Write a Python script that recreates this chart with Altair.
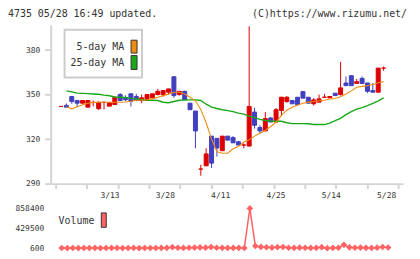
import json
import pandas as pd
import altair as alt

# ---------------- data ----------------
dates = ["2/28", "2/29", "3/1", "3/4", "3/5", "3/6", "3/7", "3/8", "3/11", "3/12",
         "3/13", "3/14", "3/15", "3/18", "3/19", "3/21", "3/22", "3/25", "3/26", "3/27",
         "3/28", "3/29", "4/1", "4/2", "4/3", "4/4", "4/5", "4/8", "4/9", "4/10",
         "4/11", "4/12", "4/15", "4/16", "4/17", "4/18", "4/19", "4/22", "4/23", "4/24",
         "4/25", "4/26", "4/30", "5/1", "5/2", "5/7", "5/8", "5/9", "5/10", "5/13",
         "5/14", "5/15", "5/16", "5/17", "5/20", "5/21", "5/22", "5/23", "5/24", "5/27",
         "5/28"]

opens = [342.0, 342.7, 348.7, 346.0, 344.2, 341.5, 344.7, 340.5, 344.7, 342.2,
         343.3, 350.0, 348.0, 350.5, 348.7, 346.0, 346.0, 347.8, 350.0, 350.0,
         351.6, 362.0, 350.0, 352.2, 344.2, 338.9, 299.8, 302.0, 322.0, 320.5,
         312.2, 322.0, 321.0, 318.2, 316.0, 315.3, 338.2, 327.8, 325.5, 334.2,
         331.5, 339.3, 345.3, 346.0, 348.2, 352.0, 348.2, 343.8, 344.9, 348.2,
         347.8, 350.9, 350.0, 357.8, 362.7, 357.5, 360.9, 357.8, 352.7, 351.6,
         367.8]
highs = [342.0, 344.0, 348.7, 346.0, 346.3, 346.0, 346.0, 345.3, 345.5, 344.5,
         348.7, 351.0, 349.5, 350.8, 350.5, 350.0, 350.3, 350.5, 353.8, 352.7,
         353.8, 362.0, 352.2, 352.5, 344.2, 338.9, 302.7, 313.8, 322.0, 320.5,
         322.0, 322.0, 322.0, 318.9, 317.1, 396.0, 341.1, 329.3, 338.2, 334.9,
         340.9, 348.5, 348.9, 346.0, 348.2, 352.0, 348.2, 347.6, 350.0, 350.5,
         348.7, 350.9, 372.0, 362.2, 362.7, 360.5, 362.2, 357.8, 357.8, 367.8,
         368.9]
lows = [342.0, 341.5, 343.8, 341.5, 344.0, 341.5, 342.0, 339.5, 340.0, 342.2,
        343.0, 345.5, 345.5, 342.0, 345.5, 344.2, 345.8, 347.8, 349.5, 348.7,
        350.0, 347.8, 349.3, 346.4, 339.8, 313.8, 295.3, 302.0, 300.5, 308.2,
        312.2, 319.3, 317.5, 316.0, 313.8, 315.3, 327.1, 323.8, 325.5, 331.5,
        331.5, 335.5, 344.5, 343.8, 343.1, 347.6, 344.2, 342.7, 344.9, 348.2,
        347.8, 349.3, 349.3, 356.0, 356.0, 357.5, 357.5, 351.1, 351.6, 351.6,
        366.0]
closes = [342.0, 341.5, 345.3, 344.2, 346.0, 346.0, 344.7, 344.8, 344.7, 344.5,
          348.2, 346.0, 346.5, 345.5, 346.0, 347.8, 350.0, 350.5, 352.2, 352.7,
          353.8, 349.3, 352.2, 346.4, 339.8, 325.5, 299.8, 310.0, 303.8, 314.0,
          322.0, 319.3, 317.5, 316.0, 316.0, 342.0, 329.3, 325.5, 333.8, 331.5,
          339.8, 348.2, 348.2, 343.8, 343.1, 347.6, 344.2, 346.4, 347.1, 348.2,
          348.7, 349.3, 354.5, 356.0, 356.0, 358.7, 357.5, 352.2, 351.6, 367.8,
          367.8]

ma5 = [None, 341.8, 340.4, 341.8, 343.2, 344.2, 344.6, 344.8, 344.8, 344.8,
       344.8, 344.8, 345.0, 345.5, 346.2, 346.3, 346.5, 347.1, 348.2, 349.3,
       350.3, 351.6, 351.6, 350.4, 348.2, 345.8, 340.0, 331.0, 320.0, 311.5,
       310.5, 310.5, 313.5, 315.0, 318.0, 319.5, 322.0, 324.0, 326.0, 328.5,
       331.5, 336.0, 339.5, 341.5, 343.0, 344.2, 344.9, 345.3, 345.8, 346.2,
       347.0, 347.3, 348.5, 350.4, 352.5, 354.9, 355.5, 356.0, 356.8, 358.0,
       358.7]
ma25 = [None, 352.5, 351.8, 351.0, 350.8, 350.6, 350.4, 350.2, 349.6, 349.2,
        348.4, 348.2, 348.0, 347.4, 347.0, 346.5, 346.3, 346.2, 346.0, 344.8,
        344.5, 345.3, 346.2, 346.4, 346.4, 346.4, 346.0, 343.5, 341.5, 340.6,
        339.8, 339.2, 338.5, 337.5, 336.8, 335.5, 334.5, 333.3, 332.5, 332.2,
        332.0, 332.0, 331.0, 330.4, 330.4, 330.4, 330.3, 329.8, 329.8, 329.8,
        330.8, 332.5, 334.0, 336.5, 338.5, 340.2, 341.2, 342.5, 344.0, 345.8,
        347.8]

volume = [None, 3200, 2500, 4100, 1800, 3600, 2900, 5200, 2100, 3300,
          4800, 6100, 2700, 3900, 5400, 2200, 3100, 4600, 2800, 5900,
          7300, 21000, 8600, 5400, 9800, 12400, 15800, 11200, 24000, 9400,
          8100, 6300, 5200, 7800, 4300, 858400, 46000, 28000, 19000, 12500,
          21000, 26000, 9700, 6800, 11200, 8400, 5100, 7600, 22000, 600,
          4900, 8900, 72000, 18600, 9100, 13400, 7200, 5800, 10300, 25000,
          14200]

date_ticks = [10, 20, 30, 40, 50, 60]
price_ticks = [290, 320, 350, 380]
volume_ticks = [600, 429500, 858400]
frame_ticks = [-1.0, 4.79, 10.58, 16.37, 22.16, 27.95, 33.75, 39.54, 45.33, 51.12, 56.91, 62.7]

legend_labels = ["5-day MA", "25-day MA"]
header_left = "4735 05/28 16:49 updated."
header_right = "(C)https://www.rizumu.net/"

# ---------------- styles ----------------
UP = "#dd0000"
DOWN = "#4040c0"
ORANGE = "#f08c10"
GREEN = "#18a818"
VOLC = "#ff6464"
AXC = "#d4d4d4"
TXT = "#333333"
FONT = "DejaVu Sans Mono"

idx = list(range(len(dates)))
df = pd.DataFrame({"i": idx, "date": dates, "open": opens, "high": highs,
                   "low": lows, "close": closes, "ma5": ma5, "ma25": ma25})
df["dir"] = ["up" if c >= o else "down" for o, c in zip(opens, closes)]

xscale = alt.Scale(domain=[-1, 62.7], nice=False, zero=False)
yscale = alt.Scale(domain=[290, 397], nice=False, zero=False)
cscale = alt.Scale(domain=["up", "down"], range=[UP, DOWN])

xaxis = alt.Axis(values=frame_ticks, labels=False, title=None, grid=False,
                 domainColor=AXC, domainWidth=2, tickColor=AXC, tickWidth=2, tickSize=5)
yaxis = alt.Axis(values=price_ticks, title=None, grid=False, domainColor=AXC,
                 domainWidth=2, tickColor=AXC, tickWidth=2, tickSize=6,
                 labelPadding=5, labelFontSize=8)

base = alt.Chart(df).encode(x=alt.X("i:Q", scale=xscale, axis=xaxis))

wick = base.mark_rule(strokeWidth=1).encode(
    y=alt.Y("low:Q", scale=yscale, axis=yaxis),
    y2="high:Q",
    color=alt.Color("dir:N", scale=cscale, legend=None))

body = base.mark_bar(size=4, strokeWidth=1).encode(
    y=alt.Y("open:Q", scale=yscale),
    y2="close:Q",
    fill=alt.Fill("dir:N", scale=cscale, legend=None),
    stroke=alt.Stroke("dir:N", scale=cscale, legend=None))

line25 = base.mark_line(strokeWidth=1.4, color=GREEN).encode(
    y=alt.Y("ma25:Q", scale=yscale))
line5 = base.mark_line(strokeWidth=1.1, color=ORANGE).encode(
    y=alt.Y("ma5:Q", scale=yscale))

one = pd.DataFrame({"k": [0]})
legend_box = alt.Chart(one).mark_rect(fill="white", stroke="#cccccc", strokeWidth=2).encode(
    x=alt.value(14), x2=alt.value(92), y=alt.value(5), y2=alt.value(53))
leg_t1 = alt.Chart(one).mark_text(text=legend_labels[0], align="right", baseline="middle",
                                  font=FONT, fontSize=10, color=TXT).encode(
    x=alt.value(74), y=alt.value(22))
leg_t2 = alt.Chart(one).mark_text(text=legend_labels[1], align="right", baseline="middle",
                                  font=FONT, fontSize=10, color=TXT).encode(
    x=alt.value(74), y=alt.value(38.5))
leg_s1 = alt.Chart(one).mark_rect(fill=ORANGE, stroke="#333333", strokeWidth=1).encode(
    x=alt.value(81), x2=alt.value(87), y=alt.value(15.5), y2=alt.value(28.5))
leg_s2 = alt.Chart(one).mark_rect(fill=GREEN, stroke="#333333", strokeWidth=1).encode(
    x=alt.value(81), x2=alt.value(87), y=alt.value(31), y2=alt.value(45))

head_l = alt.Chart(one).mark_text(text=header_left, align="left", baseline="middle",
                                  font=FONT, fontSize=10, color=TXT).encode(
    x=alt.value(-43), y=alt.value(-11))
head_r = alt.Chart(one).mark_text(text=header_right, align="right", baseline="middle",
                                  font=FONT, fontSize=10, color=TXT).encode(
    x=alt.value(359), y=alt.value(-11))

price = alt.layer(wick, body, line25, line5, legend_box, leg_t1, leg_t2, leg_s1, leg_s2,
                  head_l, head_r).properties(width=355, height=160)

# ---------------- volume ----------------
vdf = pd.DataFrame({"i": idx, "vol": volume}).dropna()
label_expr = json.dumps(dates) + "[datum.value]"
vx = alt.X("i:Q", scale=xscale,
           axis=alt.Axis(orient="top", values=date_ticks, labelExpr=label_expr, title=None,
                         domain=False, ticks=False, grid=False, labelPadding=9,
                         labelFontSize=8, labelOffset=-2, labelFlush=False))
vy = alt.Y("vol:Q", scale=alt.Scale(domain=[600, 858400], nice=False, zero=False),
           axis=alt.Axis(values=volume_ticks, format="d", title=None, domain=False,
                         ticks=False, grid=False, labelPadding=7, labelFontSize=8,
                         labelFlush=False))
vline = alt.Chart(vdf).mark_line(color=VOLC, strokeWidth=1.5).encode(x=vx, y=vy)
vpts = alt.Chart(vdf).mark_point(shape="diamond", size=45, filled=True, color=VOLC,
                                 opacity=1).encode(x=vx, y=vy)
vol_t = alt.Chart(one).mark_text(text="Volume", align="left", baseline="middle",
                                 font=FONT, fontSize=10, color=TXT).encode(
    x=alt.value(8), y=alt.value(13))
vol_s = alt.Chart(one).mark_rect(fill=VOLC, stroke="#333333", strokeWidth=1).encode(
    x=alt.value(51), x2=alt.value(56), y=alt.value(4.5), y2=alt.value(19))

vol = alt.layer(vline, vpts, vol_t, vol_s).properties(width=355, height=40)

chart = alt.vconcat(price, vol, spacing=2, padding={"left": 0, "top": 0, "right": 5, "bottom": 5}
                    ).configure_view(strokeWidth=0).configure_axis(
    labelFont=FONT, labelColor=TXT).properties(background="white")

chart.save("out.html", embed_options={"renderer": "svg", "actions": False})
